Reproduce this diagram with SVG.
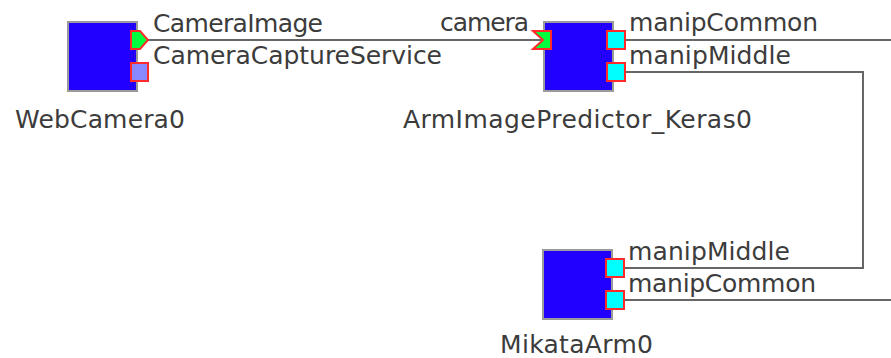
<svg xmlns="http://www.w3.org/2000/svg" width="891" height="358" viewBox="0 0 891 358">
<style>
.blk{fill:#2100ff;stroke:#9a9a9a;stroke-width:2}
.port{stroke:#ff2a2a;stroke-width:2}
.svc{fill:#00ffff}
.in{fill:#00ff3c}
.sp{fill:#8888ff}
.lbl{font-family:"DejaVu Sans",sans-serif;font-size:25px;fill:#3c3c3c}
.con{fill:none;stroke:#666;stroke-width:2}
</style>
<rect width="891" height="358" fill="#fff"/>
<g id="connectors">
<path class="con" d="M143 40H543"/>
<path class="con" d="M617 40H900V300H615"/>
<path class="con" d="M617 72H863V268H615"/>
</g>
<g id="WebCamera0">
<rect class="blk" x="68" y="22" width="69" height="69"/>
<polygon class="port in" points="131,31 140,31 148,40 140,49 131,49"/>
<rect class="port sp" x="131" y="63" width="17" height="18"/>
<text class="lbl" x="153" y="32" textLength="170">CameraImage</text>
<text class="lbl" x="153" y="64" textLength="289">CameraCaptureService</text>
<text class="lbl" x="15" y="128" textLength="170">WebCamera0</text>
</g>
<g id="ArmImagePredictor_Keras0">
<rect class="blk" x="544" y="22" width="69" height="69"/>
<polygon class="port in" points="533,31 551,31 551,49 533,49 543,40"/>
<rect class="port svc" x="607" y="31" width="18" height="18"/>
<rect class="port svc" x="607" y="63" width="18" height="18"/>
<text class="lbl" x="440" y="31" textLength="89">camera</text>
<text class="lbl" x="629" y="31" textLength="189">manipCommon</text>
<text class="lbl" x="629" y="64" textLength="162">manipMiddle</text>
<text class="lbl" x="403" y="128" textLength="349">ArmImagePredictor_Keras0</text>
</g>
<g id="MikataArm0">
<rect class="blk" x="543" y="250" width="69" height="69"/>
<rect class="port svc" x="606" y="259" width="18" height="18"/>
<rect class="port svc" x="606" y="291" width="18" height="18"/>
<text class="lbl" x="628" y="260" textLength="162">manipMiddle</text>
<text class="lbl" x="628" y="292" textLength="188">manipCommon</text>
<text class="lbl" x="500" y="353" textLength="153">MikataArm0</text>
</g>
</svg>
